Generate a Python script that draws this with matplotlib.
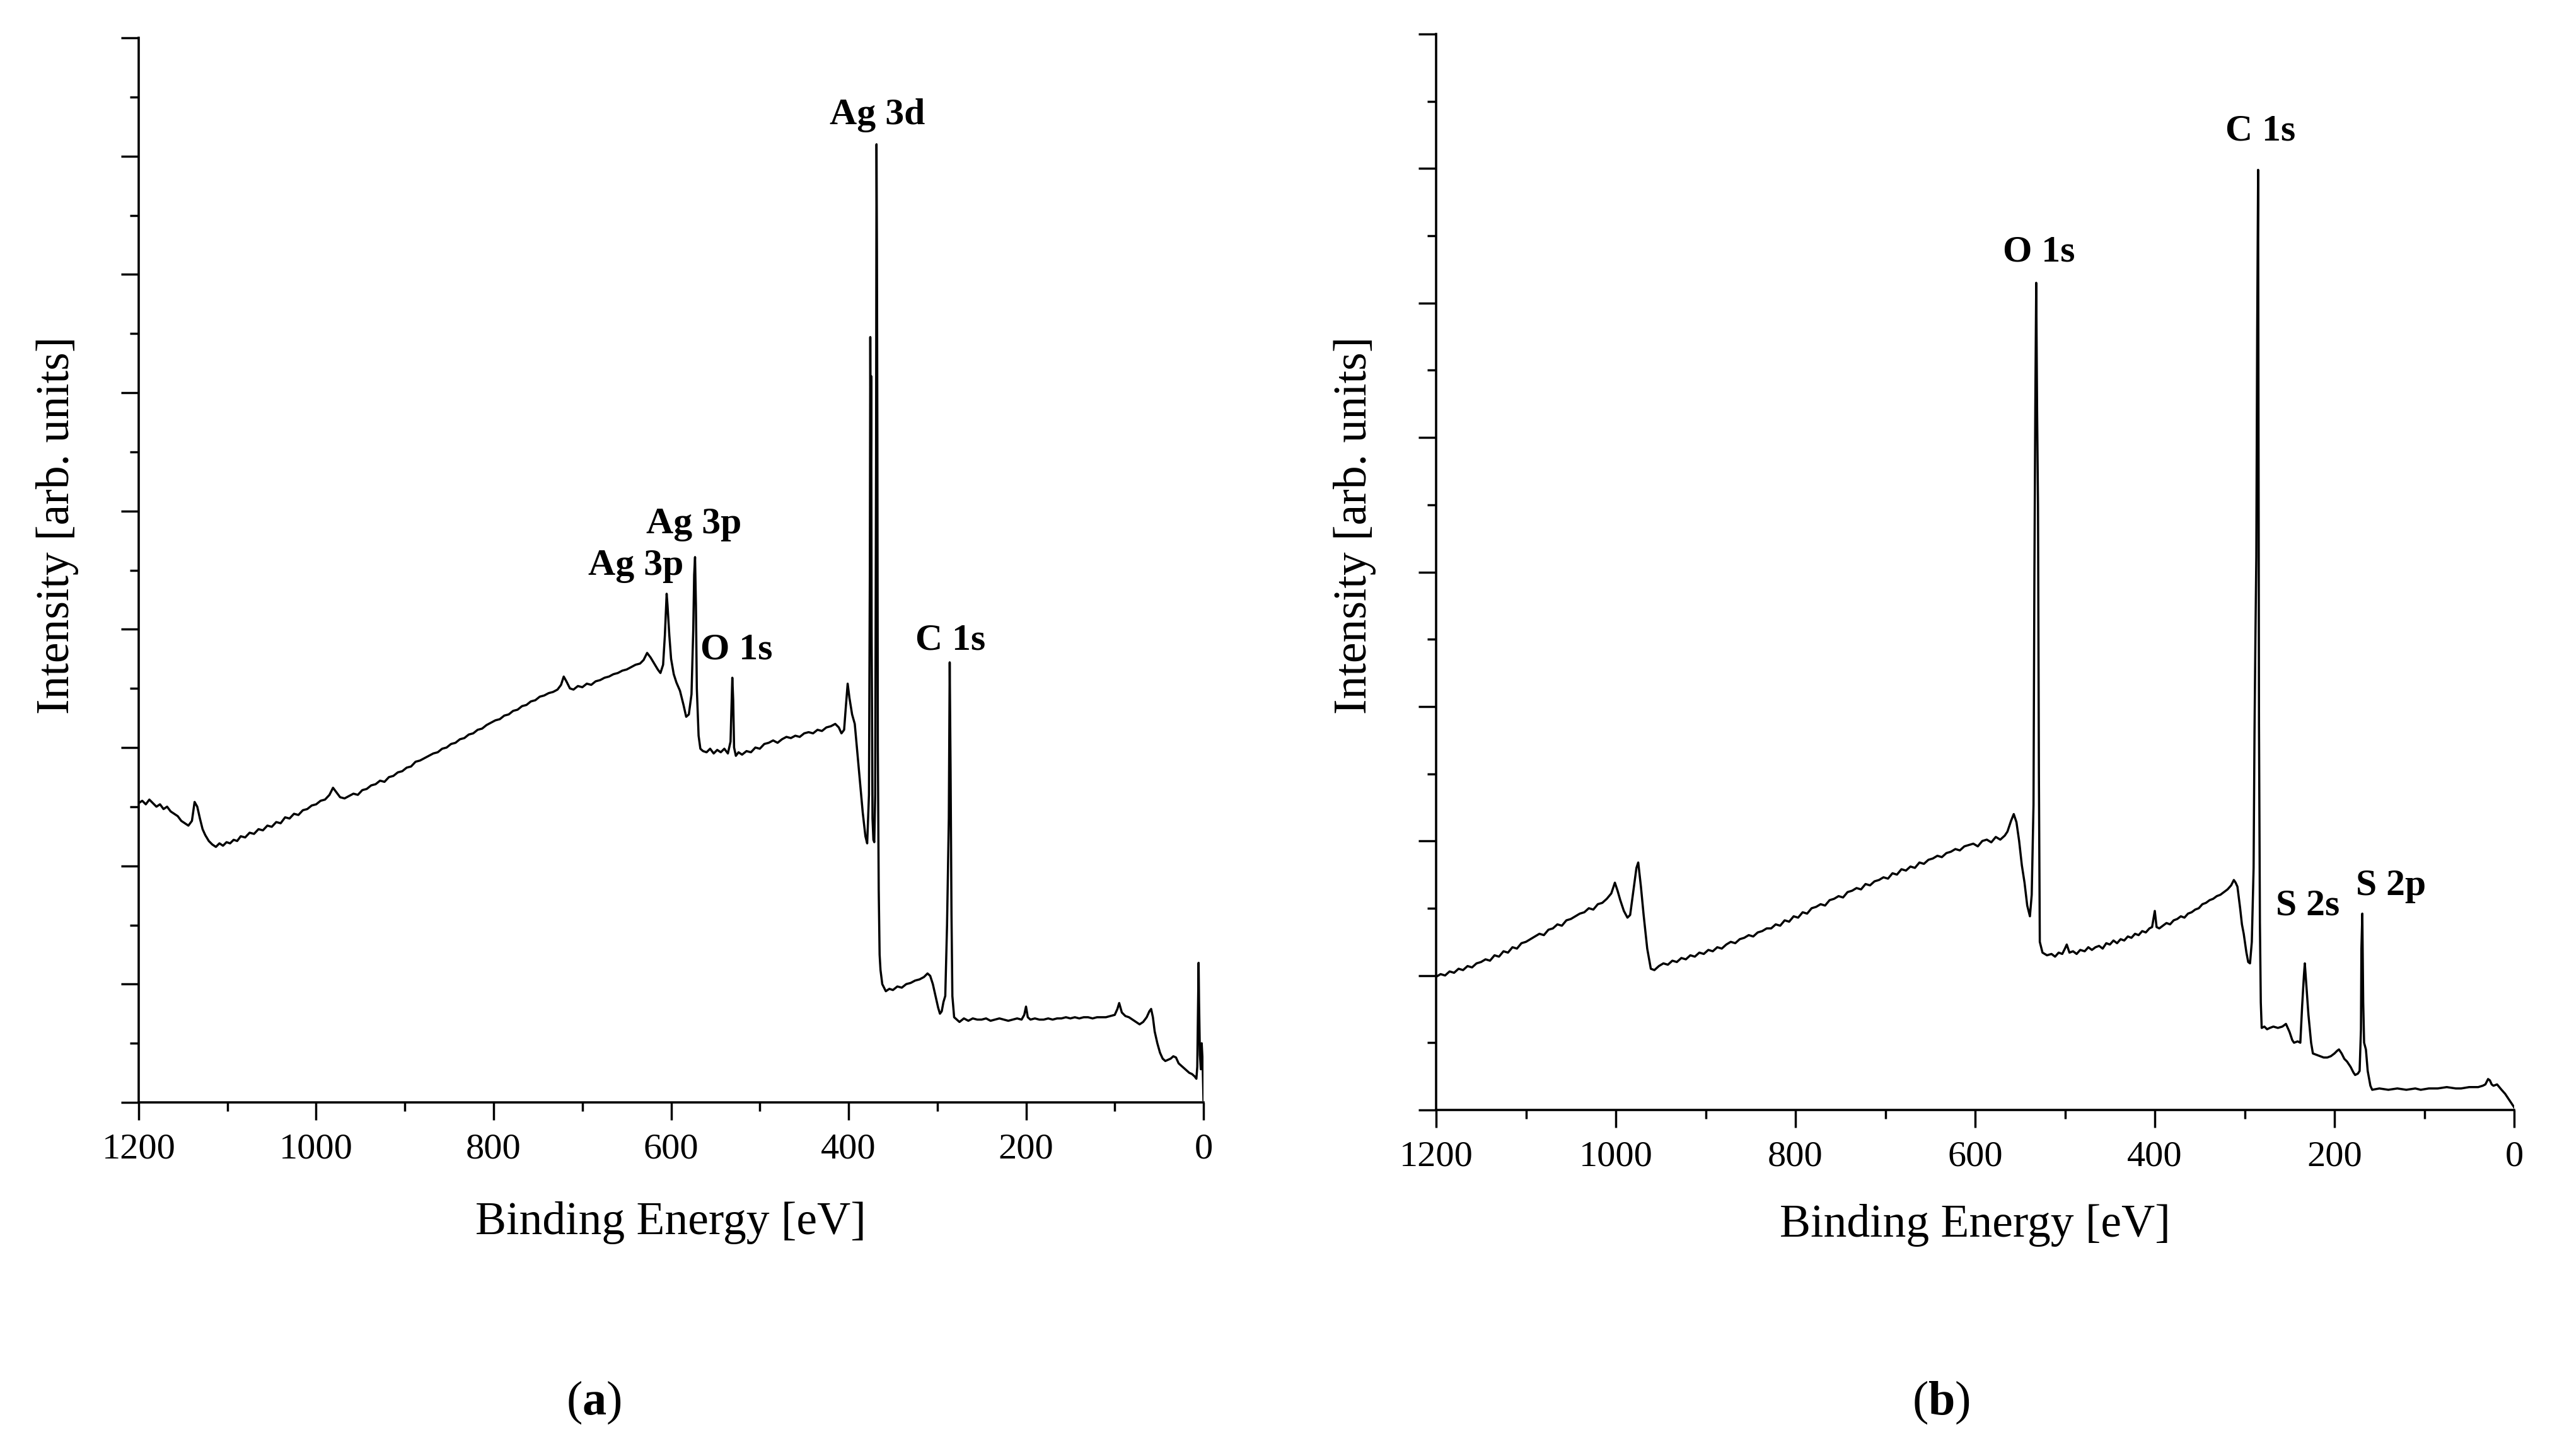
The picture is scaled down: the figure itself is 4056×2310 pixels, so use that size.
import matplotlib
matplotlib.use("Agg")
import matplotlib.pyplot as plt
from matplotlib.ticker import MultipleLocator

# survey spectrum (a): binding energy [eV] and intensity [arb. units]
a_be = [
    1200, 1196, 1192, 1188, 1184, 1180, 1176, 1172, 1168, 1164,
    1160, 1156, 1152, 1148, 1144, 1140, 1137, 1134, 1131, 1128,
    1125, 1121, 1117, 1113, 1109, 1105, 1101, 1097, 1093, 1089,
    1085, 1080, 1075, 1070, 1065, 1060, 1055, 1050, 1045, 1040,
    1035, 1030, 1025, 1020, 1015, 1010, 1005, 1000, 995, 990,
    985, 981, 977, 973, 968, 963, 958, 953, 948, 943,
    938, 933, 928, 923, 918, 913, 908, 903, 898, 893,
    888, 883, 878, 873, 868, 863, 858, 853, 848, 843,
    838, 833, 828, 823, 818, 813, 808, 803, 798, 793,
    788, 783, 778, 773, 768, 763, 758, 753, 748, 743,
    738, 733, 728, 724, 721, 718, 714, 710, 705, 700,
    695, 690, 685, 680, 675, 670, 665, 660, 655, 650,
    645, 640, 635, 631, 627, 623, 619, 615, 612, 609,
    607, 605, 604, 602, 600, 597, 594, 590, 586, 583,
    580, 577, 575, 574, 573, 572, 571, 569, 567, 564,
    560, 556, 552, 548, 544, 540, 536, 533, 531, 530,
    529, 527, 524, 520, 515, 510, 505, 500, 495, 490,
    485, 480, 475, 470, 465, 460, 455, 450, 445, 440,
    435, 430, 425, 420, 415, 411, 408, 405, 403, 401,
    399, 396, 393, 390, 387, 384, 381, 379, 377, 376,
    375.5, 375, 374.5, 374, 373, 372, 371, 370, 369, 368.5,
    368, 367.5, 367, 366, 365, 364, 362, 358, 354, 350,
    345, 340, 335, 330, 325, 320, 315, 311, 308, 305,
    302, 299, 297, 295, 293, 291, 289, 287, 286, 285,
    284, 283, 281, 278, 275, 270, 265, 260, 255, 250,
    245, 240, 235, 230, 225, 220, 215, 210, 205, 202,
    200, 198, 195, 190, 185, 180, 175, 170, 165, 160,
    155, 150, 145, 140, 135, 130, 125, 120, 115, 110,
    105, 100, 97, 95, 92, 88, 84, 80, 76, 72,
    68, 64, 61, 59, 57, 55, 52, 49, 46, 43,
    40, 37, 34, 31, 28, 25, 22, 19, 16, 13,
    10, 8, 7, 6, 5.5, 5, 4, 3, 2, 1,
    0,
]
a_int = [
    2.53, 2.55, 2.52, 2.56, 2.53, 2.50, 2.52, 2.48, 2.50, 2.46,
    2.44, 2.42, 2.38, 2.36, 2.34, 2.38, 2.54, 2.50, 2.40, 2.31,
    2.26, 2.21, 2.18, 2.16, 2.19, 2.17, 2.20, 2.19, 2.22, 2.21,
    2.25, 2.24, 2.28, 2.27, 2.31, 2.30, 2.34, 2.33, 2.37, 2.36,
    2.41, 2.40, 2.44, 2.43, 2.47, 2.48, 2.51, 2.52, 2.55, 2.56,
    2.60, 2.66, 2.62, 2.58, 2.57, 2.59, 2.61, 2.60, 2.64, 2.65,
    2.68, 2.69, 2.72, 2.71, 2.75, 2.76, 2.79, 2.80, 2.83, 2.84,
    2.88, 2.89, 2.91, 2.93, 2.95, 2.96, 2.99, 3.00, 3.03, 3.04,
    3.07, 3.08, 3.11, 3.12, 3.15, 3.16, 3.19, 3.21, 3.23, 3.24,
    3.27, 3.28, 3.31, 3.32, 3.35, 3.36, 3.39, 3.40, 3.43, 3.44,
    3.46, 3.47, 3.49, 3.53, 3.60, 3.56, 3.50, 3.49, 3.52, 3.51,
    3.54, 3.53, 3.56, 3.57, 3.59, 3.60, 3.62, 3.63, 3.65, 3.66,
    3.68, 3.70, 3.71, 3.74, 3.80, 3.76, 3.71, 3.66, 3.63, 3.70,
    3.95, 4.30, 4.20, 3.95, 3.75, 3.62, 3.55, 3.48, 3.36, 3.26,
    3.28, 3.45, 4.00, 4.46, 4.61, 4.20, 3.50, 3.10, 2.99, 2.97,
    2.96, 2.99, 2.95, 2.98, 2.96, 2.99, 2.95, 3.05, 3.59, 3.40,
    3.00, 2.93, 2.96, 2.94, 2.97, 2.96, 3.00, 2.99, 3.03, 3.04,
    3.06, 3.04, 3.07, 3.09, 3.08, 3.10, 3.09, 3.12, 3.13, 3.12,
    3.15, 3.14, 3.17, 3.18, 3.20, 3.17, 3.12, 3.15, 3.35, 3.54,
    3.42, 3.28, 3.20, 2.95, 2.70, 2.45, 2.25, 2.19, 2.60, 4.50,
    6.47, 5.30, 6.14, 4.00, 2.40, 2.22, 2.20, 2.60, 5.40, 8.10,
    7.20, 5.60, 3.00, 1.80, 1.25, 1.12, 1.00, 0.94, 0.96, 0.95,
    0.98, 0.97, 1.00, 1.01, 1.03, 1.04, 1.06, 1.09, 1.07, 1.00,
    0.90, 0.80, 0.75, 0.77, 0.85, 0.90, 1.50, 2.40, 3.72, 2.80,
    1.60, 0.90, 0.72, 0.70, 0.68, 0.71, 0.69, 0.71, 0.70, 0.70,
    0.71, 0.69, 0.70, 0.71, 0.70, 0.69, 0.70, 0.71, 0.70, 0.74,
    0.81, 0.72, 0.70, 0.71, 0.70, 0.70, 0.71, 0.70, 0.71, 0.71,
    0.72, 0.71, 0.72, 0.71, 0.72, 0.72, 0.71, 0.72, 0.72, 0.72,
    0.73, 0.74, 0.79, 0.84, 0.76, 0.73, 0.72, 0.70, 0.68, 0.66,
    0.68, 0.72, 0.77, 0.79, 0.72, 0.60, 0.50, 0.42, 0.37, 0.35,
    0.36, 0.37, 0.39, 0.38, 0.33, 0.31, 0.29, 0.27, 0.25, 0.24,
    0.22, 0.20, 0.30, 0.90, 1.18, 0.85, 0.40, 0.28, 0.50, 0.35,
    0.02,
]

# survey spectrum (b)
b_be = [
    1200, 1195, 1190, 1185, 1180, 1175, 1170, 1165, 1160, 1155,
    1150, 1145, 1140, 1135, 1130, 1125, 1120, 1115, 1110, 1105,
    1100, 1095, 1090, 1085, 1080, 1075, 1070, 1065, 1060, 1055,
    1050, 1045, 1040, 1035, 1030, 1025, 1020, 1015, 1010, 1005,
    1001, 998, 995, 991, 987, 984, 980, 977, 975, 972,
    969, 965, 961, 957, 952, 947, 942, 937, 932, 927,
    922, 917, 912, 907, 902, 897, 892, 887, 882, 877,
    872, 867, 862, 857, 852, 847, 842, 837, 832, 827,
    822, 817, 812, 807, 802, 797, 792, 787, 782, 777,
    772, 767, 762, 757, 752, 747, 742, 737, 732, 727,
    722, 717, 712, 707, 702, 697, 692, 687, 682, 677,
    672, 667, 662, 657, 652, 647, 642, 637, 632, 627,
    622, 617, 612, 607, 602, 597, 592, 587, 582, 577,
    572, 567, 564, 560, 557, 554, 551, 548, 545, 542,
    539, 537, 535, 534, 533, 532, 531, 530, 529, 528,
    525, 520, 515, 511, 507, 503, 500, 498, 495, 491,
    487, 483, 478, 474, 470, 466, 462, 458, 454, 450,
    446, 442, 438, 434, 430, 426, 422, 418, 414, 410,
    406, 403, 401, 400, 398, 395, 391, 387, 383, 379,
    375, 371, 367, 363, 359, 355, 351, 347, 343, 339,
    335, 331, 327, 323, 319, 315, 312, 310, 308, 305,
    303, 301, 298, 296, 294, 292, 290, 289, 288, 287,
    286, 285, 284.5, 284, 283, 282, 281, 278, 275, 272,
    268, 263, 258, 254, 250, 247, 245, 241, 238, 236,
    234, 233, 231, 229, 226, 224, 220, 216, 212, 208,
    204, 200, 197, 195, 192, 189, 186, 182, 179, 177,
    174, 172, 170.5, 170, 169, 168, 167, 165, 163, 160,
    158, 150, 140, 130, 120, 110, 104, 95, 85, 75,
    65, 59, 50, 40, 35, 32, 29, 27, 25, 23,
    19, 14, 10, 6, 3, 0,
]
b_int = [
    0.99, 1.01, 1.00, 1.03, 1.02, 1.05, 1.04, 1.07, 1.06, 1.09,
    1.10, 1.12, 1.11, 1.15, 1.14, 1.18, 1.17, 1.21, 1.20, 1.24,
    1.25, 1.27, 1.29, 1.31, 1.30, 1.34, 1.35, 1.38, 1.37, 1.41,
    1.42, 1.44, 1.46, 1.47, 1.50, 1.49, 1.53, 1.54, 1.57, 1.61,
    1.69, 1.63, 1.56, 1.48, 1.43, 1.45, 1.65, 1.80, 1.84, 1.66,
    1.45, 1.20, 1.05, 1.04, 1.07, 1.09, 1.08, 1.11, 1.10, 1.13,
    1.12, 1.15, 1.14, 1.17, 1.16, 1.19, 1.18, 1.21, 1.20, 1.23,
    1.25, 1.24, 1.27, 1.28, 1.30, 1.29, 1.32, 1.33, 1.35, 1.35,
    1.38, 1.37, 1.41, 1.40, 1.44, 1.43, 1.47, 1.46, 1.50, 1.51,
    1.53, 1.52, 1.56, 1.57, 1.59, 1.58, 1.62, 1.63, 1.65, 1.64,
    1.68, 1.67, 1.70, 1.71, 1.73, 1.72, 1.76, 1.75, 1.79, 1.78,
    1.81, 1.80, 1.84, 1.83, 1.86, 1.87, 1.89, 1.88, 1.91, 1.92,
    1.94, 1.93, 1.96, 1.97, 1.98, 1.96, 2.00, 2.01, 1.99, 2.03,
    2.01, 2.04, 2.07, 2.15, 2.20, 2.14, 2.00, 1.82, 1.69, 1.52,
    1.44, 1.60, 2.27, 4.00, 5.24, 6.15, 5.20, 4.50, 2.50, 1.25,
    1.17, 1.15, 1.16, 1.14, 1.17, 1.16, 1.20, 1.23, 1.17, 1.18,
    1.16, 1.19, 1.18, 1.21, 1.19, 1.21, 1.22, 1.20, 1.24, 1.23,
    1.26, 1.24, 1.27, 1.26, 1.29, 1.28, 1.31, 1.30, 1.33, 1.32,
    1.35, 1.36, 1.44, 1.48, 1.36, 1.35, 1.37, 1.39, 1.38, 1.41,
    1.42, 1.44, 1.43, 1.46, 1.47, 1.49, 1.50, 1.53, 1.54, 1.56,
    1.57, 1.59, 1.60, 1.62, 1.64, 1.67, 1.71, 1.69, 1.66, 1.50,
    1.38, 1.31, 1.17, 1.10, 1.09, 1.25, 1.80, 2.81, 3.50, 4.11,
    5.80, 6.99, 5.00, 2.87, 1.40, 0.80, 0.61, 0.62, 0.60, 0.61,
    0.62, 0.61, 0.62, 0.64, 0.58, 0.52, 0.50, 0.51, 0.50, 0.77,
    1.00, 1.09, 0.90, 0.71, 0.50, 0.42, 0.41, 0.40, 0.39, 0.39,
    0.40, 0.42, 0.44, 0.45, 0.42, 0.38, 0.36, 0.32, 0.28, 0.26,
    0.27, 0.29, 0.60, 1.20, 1.46, 0.80, 0.50, 0.45, 0.29, 0.18,
    0.15, 0.16, 0.15, 0.16, 0.15, 0.16, 0.15, 0.16, 0.16, 0.17,
    0.16, 0.16, 0.17, 0.17, 0.18, 0.19, 0.23, 0.22, 0.19, 0.18,
    0.19, 0.15, 0.12, 0.08, 0.05, 0.02,
]

# peak labels: text, binding energy, intensity at label baseline
a_labels = ["Ag 3d", "Ag 3p", "Ag 3p", "O 1s", "C 1s"]
a_label_be = [367.3, 574.1, 639.4, 526.5, 284.9]
a_label_int = [8.27, 4.81, 4.46, 3.75, 3.83]
b_labels = ["O 1s", "C 1s", "S 2s", "S 2p"]
b_label_be = [529.1, 282.1, 229.5, 136.8]
b_label_int = [6.31, 7.21, 1.45, 1.60]

x_ticks = [1200, 1000, 800, 600, 400, 200, 0]

plt.rcParams["font.family"] = ["Liberation Serif", "DejaVu Serif"]
plt.rcParams["mathtext.fontset"] = "custom"
plt.rcParams["mathtext.rm"] = "Liberation Serif"
plt.rcParams["mathtext.bf"] = "Liberation Serif:bold"

W, H = 4056, 2310
fig = plt.figure(figsize=(W / 100, H / 100), dpi=100)
fig.patch.set_facecolor("white")


def box(x0, y0, x1, y1):
    # pixel box -> figure fraction
    return [x0 / W, 1 - y1 / H, (x1 - x0) / W, (y1 - y0) / H]


ax_a = fig.add_axes(box(220, 60, 1909, 1749))
ax_b = fig.add_axes(box(2278, 54, 3988, 1761))

panels = [
    (ax_a, a_be, a_int, 9, a_labels, a_label_be, a_label_int),
    (ax_b, b_be, b_int, 8, b_labels, b_label_be, b_label_int),
]

for ax, be, inten, ytop, labs, lbe, lint in panels:
    ax.plot(be, inten, color="black", lw=2.5)
    ax.set_xlim(1200, 0)
    ax.set_ylim(0, ytop)
    ax.set_xticks(x_ticks)
    ax.set_xticklabels([str(t) for t in x_ticks])
    ax.xaxis.set_minor_locator(MultipleLocator(100))
    ax.yaxis.set_major_locator(MultipleLocator(1))
    ax.yaxis.set_minor_locator(MultipleLocator(0.5))
    ax.set_yticklabels([])
    for s in ["top", "right"]:
        ax.spines[s].set_visible(False)
    for s in ["left", "bottom"]:
        ax.spines[s].set_linewidth(2.6)
    ax.tick_params(which="major", direction="out", length=20, width=2.5,
                   labelsize=42, pad=15)
    ax.tick_params(which="minor", direction="out", length=10, width=2.5)
    for t, x, y in zip(labs, lbe, lint):
        ax.text(x, y, t, ha="center", va="baseline", fontsize=43,
                fontweight="bold")

# axis titles
for xc in [91, 2149]:
    fig.text(xc / W, 1 - 833 / H, "Intensity [arb. units]", rotation=90,
             ha="center", va="center", fontsize=53)
for xc, yb in [(1064, 1958), (3133, 1962)]:
    fig.text(xc / W, 1 - yb / H, "Binding Energy [eV]", ha="center",
             va="baseline", fontsize=53)

# panel letters
fig.text(942 / W, 1 - 2225 / H, r"($\mathbf{a}$)", ha="center", va="center",
         fontsize=55)
fig.text(3079 / W, 1 - 2225 / H, r"($\mathbf{b}$)", ha="center", va="center",
         fontsize=55)

fig.savefig("out.png", dpi=100, facecolor="white")
